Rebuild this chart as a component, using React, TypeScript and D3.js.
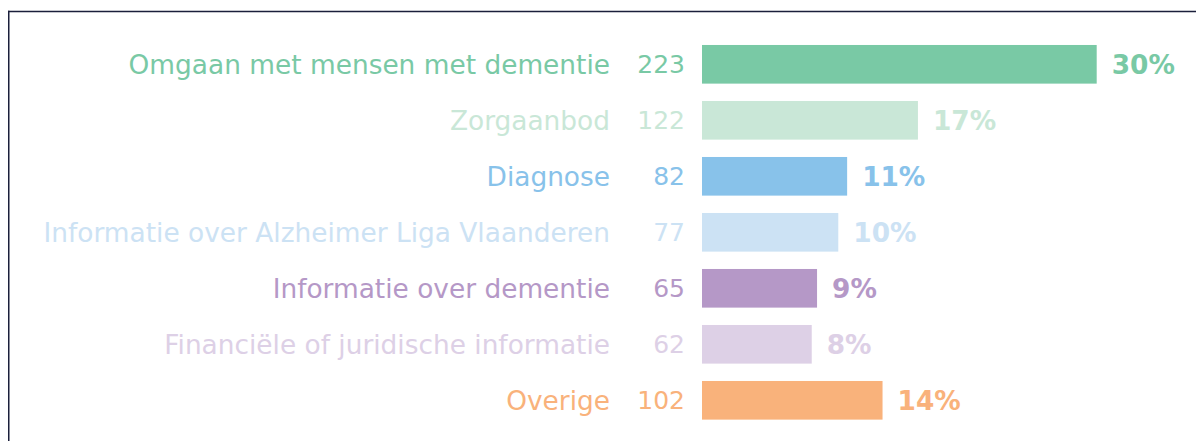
import React from "react";
import * as d3 from "d3";

const categories = [
  "Omgaan met mensen met dementie",
  "Zorgaanbod",
  "Diagnose",
  "Informatie over Alzheimer Liga Vlaanderen",
  "Informatie over dementie",
  "Financiële of juridische informatie",
  "Overige",
];
const counts = [223, 122, 82, 77, 65, 62, 102];
const percents = [30, 17, 11, 10, 9, 8, 14];
const colors = ["#79C9A5", "#C9E7D7", "#88C2EA", "#CCE2F4", "#B598C7", "#DDD0E6", "#F9B27B"];

const W = 1196;
const H = 441;
const FONT = "'DejaVu Sans', sans-serif";

export default function App() {
  const x = d3.scaleLinear().domain([0, 223]).range([702, 1096.7]);
  const y = d3
    .scaleBand<string>()
    .domain(categories)
    .range([36.3, 36.3 + 56 * categories.length])
    .paddingInner(0.31)
    .paddingOuter(0.155);
  const bw = y.bandwidth();

  return (
    <div style={{ position: "fixed", left: 0, top: 0 }}>
      <svg width={W} height={H} style={{ display: "block", background: "#fff" }}>
        <line x1={8} x2={W} y1={11.5} y2={11.5} stroke="#1b1f3b" strokeWidth={1.5} />
        <line x1={8.75} x2={8.75} y1={10.75} y2={H} stroke="#1b1f3b" strokeWidth={1.5} />
        {categories.map((c, i) => {
          const yc = (y(c) as number) + bw / 2;
          return (
            <g key={c} fontFamily={FONT} fill={colors[i]}>
              <text x={610} y={yc} dy="0.36em" textAnchor="end" fontSize={26.4}>
                {c}
              </text>
              <text x={685} y={yc} dy="0.36em" textAnchor="end" fontSize={25}>
                {counts[i]}
              </text>
              <rect x={x(0)} y={y(c)} width={x(counts[i]) - x(0)} height={bw} fill={colors[i]} />
              <text x={x(counts[i]) + 15} y={yc} dy="0.36em" fontSize={26.4} fontWeight={700}>
                {percents[i] + "%"}
              </text>
            </g>
          );
        })}
      </svg>
    </div>
  );
}
